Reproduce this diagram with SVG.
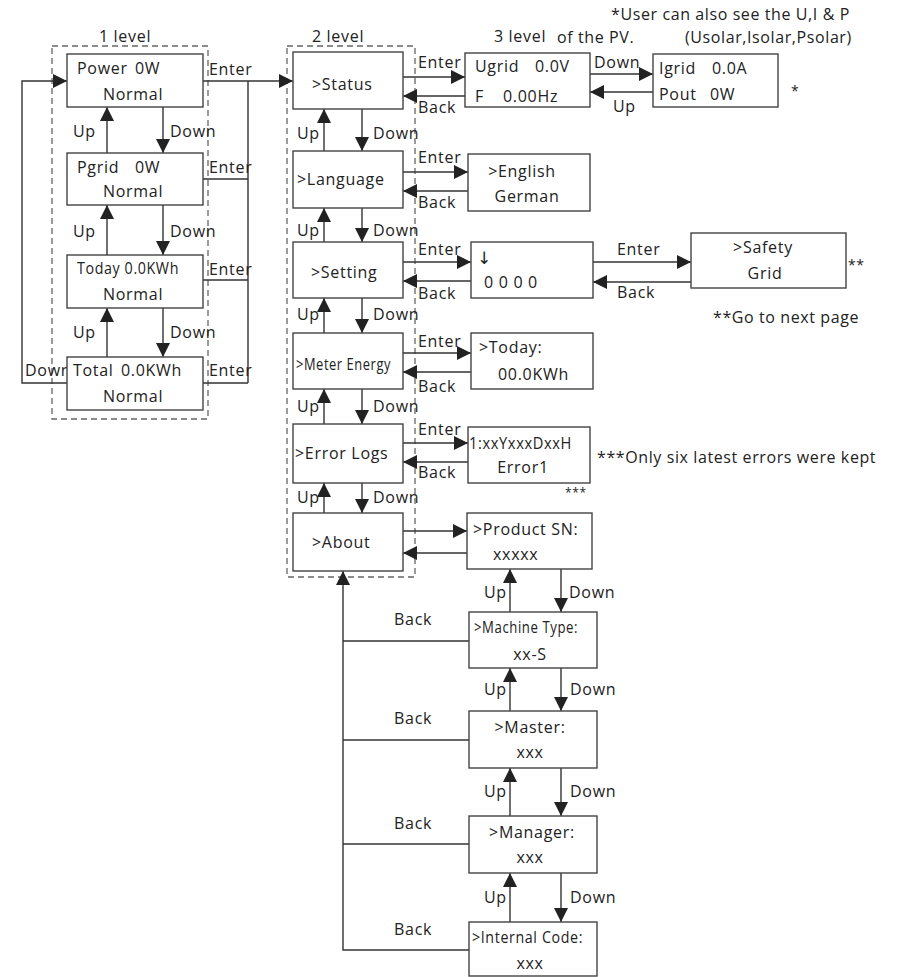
<svg xmlns="http://www.w3.org/2000/svg" width="903" height="977" viewBox="0 0 903 977">
<style>
text{font-family:"Open Sans","Noto Sans","Liberation Sans",sans-serif;font-size:16px;fill:#222;letter-spacing:0.7px}
.note{font-size:16px;letter-spacing:0.6px}
.m{text-anchor:middle}
.box{fill:#fff;stroke:#444;stroke-width:1.4}
.dash{fill:none;stroke:#666;stroke-width:1.3;stroke-dasharray:6 4}
.ln{fill:none;stroke:#333;stroke-width:1.4}
.ar{fill:none;stroke:#333;stroke-width:1.4;marker-end:url(#ah)}
</style>
<defs>
<marker id="ah" viewBox="0 0 14 14" markerWidth="14" markerHeight="14" refX="14" refY="7" orient="auto" markerUnits="userSpaceOnUse"><path d="M0,0 L14,7 L0,14 z" fill="#222"/></marker>
</defs>
<rect width="903" height="977" fill="#fff"/>

<g id="level1-frame">
<rect class="dash" x="52" y="46" width="156" height="373"/>
<text class="m" x="125" y="42">1 level</text>
</g>
<g id="level2-frame">
<rect class="dash" x="287" y="46" width="128" height="531"/>
<text class="m" x="338" y="42">2 level</text>
</g>
<text id="level3-title" class="m" x="520" y="42">3 level</text>

<g id="connectors">
<path class="ar" d="M107,153 L107,107"/>
<path class="ar" d="M163,107 L163,153"/>
<path class="ar" d="M107,255 L107,205"/>
<path class="ar" d="M163,205 L163,255"/>
<path class="ar" d="M107,357 L107,308"/>
<path class="ar" d="M163,308 L163,357"/>
<path class="ar" d="M67,383 L22,383 L22,81 L67,81"/>
<path class="ar" d="M203,81 L293,81"/>
<path class="ln" d="M203,179 L248,179 M203,280 L248,280 M203,383 L248,383 M248,81 L248,383"/>

<path class="ar" d="M324,151 L324,109"/>
<path class="ar" d="M362,109 L362,151"/>
<path class="ar" d="M324,242 L324,208"/>
<path class="ar" d="M362,208 L362,242"/>
<path class="ar" d="M324,333 L324,298"/>
<path class="ar" d="M362,298 L362,333"/>
<path class="ar" d="M324,424 L324,389"/>
<path class="ar" d="M362,389 L362,424"/>
<path class="ar" d="M324,513 L324,483"/>
<path class="ar" d="M362,483 L362,513"/>

<path class="ar" d="M403,77 L465,77"/>
<path class="ar" d="M465,96 L403,96"/>
<path class="ar" d="M403,172 L468,172"/>
<path class="ar" d="M468,191 L403,191"/>
<path class="ar" d="M403,262 L471,262"/>
<path class="ar" d="M471,281 L403,281"/>
<path class="ar" d="M403,353 L471,353"/>
<path class="ar" d="M471,372 L403,372"/>
<path class="ar" d="M403,443 L468,443"/>
<path class="ar" d="M468,462 L403,462"/>
<path class="ar" d="M403,531 L467,531"/>
<path class="ar" d="M467,553 L403,553"/>

<path class="ar" d="M590,74 L653,74"/>
<path class="ar" d="M653,92 L590,92"/>
<path class="ar" d="M593,262 L691,262"/>
<path class="ar" d="M691,282 L593,282"/>

<path class="ar" d="M510,612 L510,569"/>
<path class="ar" d="M561,569 L561,612"/>
<path class="ar" d="M510,711 L510,668"/>
<path class="ar" d="M561,668 L561,711"/>
<path class="ar" d="M510,816 L510,768"/>
<path class="ar" d="M561,768 L561,816"/>
<path class="ar" d="M510,922 L510,873"/>
<path class="ar" d="M561,873 L561,922"/>

<path class="ar" d="M469,950 L343,950 L343,571"/>
<path class="ln" d="M469,641 L343,641 M469,740 L343,740 M469,844 L343,844"/>

<text x="73" y="137">Up</text><text x="170" y="137">Down</text>
<text x="73" y="237">Up</text><text x="170" y="237">Down</text>
<text x="73" y="338">Up</text><text x="170" y="338">Down</text>
<text x="25" y="376">Down</text>
<text x="209" y="75">Enter</text>
<text x="209" y="173">Enter</text>
<text x="209" y="275">Enter</text>
<text x="209" y="376">Enter</text>

<text x="297" y="139">Up</text><text x="373" y="139">Down</text>
<text x="297" y="236">Up</text><text x="373" y="236">Down</text>
<text x="297" y="320">Up</text><text x="373" y="320">Down</text>
<text x="297" y="412">Up</text><text x="373" y="412">Down</text>
<text x="297" y="503">Up</text><text x="373" y="503">Down</text>

<text x="418" y="68">Enter</text><text x="418" y="113">Back</text>
<text x="418" y="163">Enter</text><text x="418" y="208">Back</text>
<text x="418" y="255">Enter</text><text x="418" y="299">Back</text>
<text x="418" y="347">Enter</text><text x="418" y="392">Back</text>
<text x="418" y="435">Enter</text><text x="418" y="478">Back</text>

<text x="594" y="68">Down</text><text x="613" y="112">Up</text>
<text x="617" y="255">Enter</text><text x="617" y="298">Back</text>

<text x="484" y="598">Up</text><text x="569" y="598">Down</text>
<text x="484" y="695">Up</text><text x="570" y="695">Down</text>
<text x="484" y="797">Up</text><text x="570" y="797">Down</text>
<text x="484" y="903">Up</text><text x="570" y="903">Down</text>

<text x="394" y="625">Back</text>
<text x="394" y="724">Back</text>
<text x="394" y="829">Back</text>
<text x="394" y="935">Back</text>
</g>

<g id="power"><rect class="box" x="67" y="54" width="136" height="53"/><text x="77" y="74">Power</text><text x="135" y="74">0W</text><text x="103" y="100">Normal</text></g>
<g id="pgrid"><rect class="box" x="67" y="153" width="136" height="52"/><text x="77" y="173">Pgrid</text><text x="135" y="173">0W</text><text x="103" y="197">Normal</text></g>
<g id="today"><rect class="box" x="67" y="255" width="136" height="53"/><text x="77" y="274" textLength="102" lengthAdjust="spacingAndGlyphs">Today 0.0KWh</text><text x="103" y="300">Normal</text></g>
<g id="total"><rect class="box" x="67" y="357" width="136" height="53"/><text x="73" y="376">Total</text><text x="121" y="376">0.0KWh</text><text x="103" y="402">Normal</text></g>

<g id="status"><rect class="box" x="293" y="52" width="110" height="57"/><text x="312" y="90">&gt;Status</text></g>
<g id="language"><rect class="box" x="293" y="151" width="110" height="57"/><text x="297" y="185">&gt;Language</text></g>
<g id="setting"><rect class="box" x="293" y="242" width="110" height="56"/><text x="311" y="278">&gt;Setting</text></g>
<g id="meter-energy"><rect class="box" x="293" y="333" width="110" height="56"/><text x="296" y="370" textLength="95" lengthAdjust="spacingAndGlyphs">&gt;Meter Energy</text></g>
<g id="error-logs"><rect class="box" x="293" y="424" width="110" height="59"/><text x="295" y="459">&gt;Error Logs</text></g>
<g id="about"><rect class="box" x="293" y="513" width="110" height="58"/><text x="312" y="548">&gt;About</text></g>

<g id="ugrid"><rect class="box" x="465" y="53" width="125" height="54"/><text x="475" y="72">Ugrid</text><text x="535" y="72">0.0V</text><text x="475" y="102">F</text><text x="503" y="102">0.00Hz</text></g>
<g id="igrid"><rect class="box" x="653" y="54" width="125" height="53"/><text x="659" y="74">Igrid</text><text x="712" y="74">0.0A</text><text x="659" y="100">Pout</text><text x="710" y="100">0W</text></g>
<text class="note" x="791" y="96" style="font-size:14px">*</text>
<text class="note" x="611" y="20">*User can also see the U,I &amp; P</text>
<text class="note" x="557" y="43">of the PV.</text>
<text class="note" x="685" y="43">(Usolar,Isolar,Psolar)</text>

<g id="english"><rect class="box" x="468" y="154" width="122" height="57"/><text class="m" x="522" y="177">&gt;English</text><text class="m" x="527" y="202">German</text></g>
<g id="password"><rect class="box" x="471" y="242" width="122" height="56"/><text x="477" y="264" style="font-family:'DejaVu Sans',sans-serif;font-size:17px;letter-spacing:0">↓</text><text x="484" y="288" xml:space="preserve">0 0 0 0</text></g>
<g id="safety"><rect class="box" x="691" y="233" width="155" height="55"/><text class="m" x="763" y="253">&gt;Safety</text><text class="m" x="765" y="279">Grid</text></g>
<text class="note" x="848" y="270" style="font-size:14px">**</text>
<text class="note" x="713" y="323">**Go to next page</text>

<g id="today-energy"><rect class="box" x="471" y="333" width="122" height="56"/><text x="479" y="353">&gt;Today:</text><text x="498" y="380">00.0KWh</text></g>
<g id="error1"><rect class="box" x="468" y="427" width="122" height="56"/><text x="469" y="449" textLength="103" lengthAdjust="spacingAndGlyphs">1:xxYxxxDxxH</text><text class="m" x="523" y="473">Error1</text></g>
<text class="note" x="565" y="497" style="font-size:12px">***</text>
<text class="note" x="597" y="463">***Only six latest errors were kept</text>

<g id="product-sn"><rect class="box" x="467" y="513" width="125" height="56"/><text x="473" y="535">&gt;Product SN:</text><text x="493" y="560">xxxxx</text></g>
<g id="machine-type"><rect class="box" x="469" y="612" width="128" height="56"/><text x="474" y="633" textLength="104" lengthAdjust="spacingAndGlyphs">&gt;Machine Type:</text><text class="m" x="530" y="660">xx-S</text></g>
<g id="master"><rect class="box" x="469" y="711" width="128" height="57"/><text class="m" x="530" y="733">&gt;Master:</text><text class="m" x="530" y="758">xxx</text></g>
<g id="manager"><rect class="box" x="469" y="816" width="128" height="57"/><text class="m" x="532" y="838">&gt;Manager:</text><text class="m" x="530" y="863">xxx</text></g>
<g id="internal-code"><rect class="box" x="469" y="922" width="128" height="54"/><text x="472" y="943" textLength="111" lengthAdjust="spacingAndGlyphs">&gt;Internal Code:</text><text class="m" x="530" y="969">xxx</text></g>
</svg>
